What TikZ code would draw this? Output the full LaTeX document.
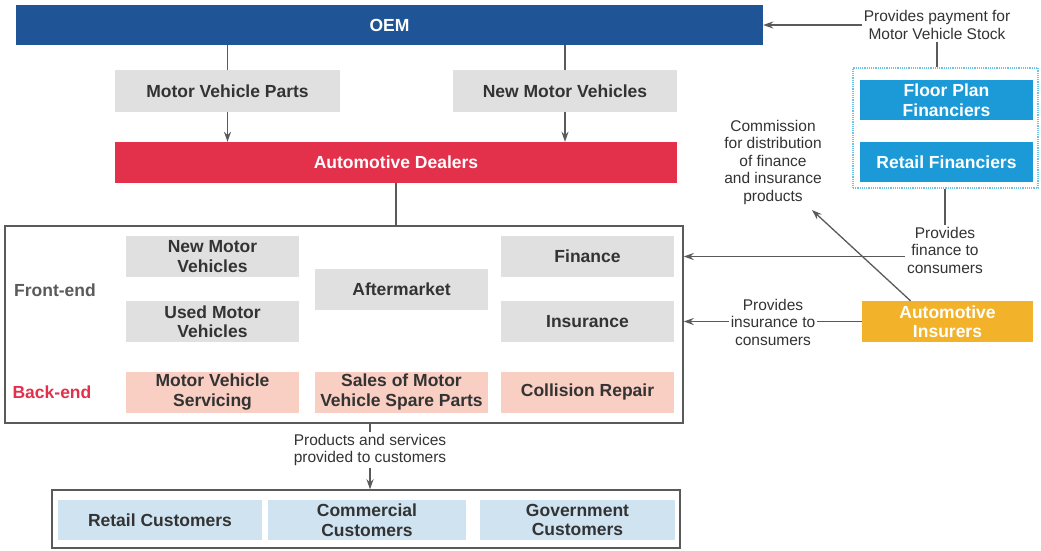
\documentclass[tikz,border=0pt]{standalone}
\usepackage{fontspec}
\setmainfont{Liberation Sans}
\usetikzlibrary{arrows.meta}
\definecolor{oemblue}{HTML}{1F5596}
\definecolor{dealred}{HTML}{E3304B}
\definecolor{boxgray}{HTML}{E0E0E0}
\definecolor{boxpink}{HTML}{F9CEC3}
\definecolor{custblue}{HTML}{CFE3F0}
\definecolor{finblue}{HTML}{1B9AD7}
\definecolor{insorange}{HTML}{F2B22A}
\definecolor{txtdark}{HTML}{333333}
\definecolor{linegray}{HTML}{5A5A5A}
\definecolor{dotcyan}{HTML}{6CC3E6}
\tikzset{
  bx/.style={inner sep=0pt, align=center, font=\fontsize{17.5}{19.5}\selectfont\bfseries},
  gbox/.style={bx, fill=boxgray, text=txtdark, minimum width=173pt, minimum height=41pt},
  pbox/.style={bx, fill=boxpink, text=txtdark, minimum width=173pt, minimum height=41pt},
  cbox/.style={bx, fill=custblue, text=txtdark, minimum height=40pt},
  wbox/.style={bx, text=white},
  lbl/.style={align=center, text=txtdark, inner sep=2pt, font=\fontsize{15.5}{17.5}\selectfont},
  conn/.style={draw=linegray, line width=1.3pt},
  arr/.style={conn, -{Stealth[length=10pt,width=7pt]}},
}
\begin{document}
\begin{tikzpicture}[x=1pt,y=-1pt]
\fill[white] (0,0) rectangle (1041,550);
\useasboundingbox (0,0) rectangle (1041,550);

% top
\node[wbox, fill=oemblue, minimum width=747pt, minimum height=40pt] (oem) at (389.5,25) {OEM};
\node[gbox, minimum width=225pt, minimum height=42pt] (mvp) at (227.5,91) {Motor Vehicle Parts};
\node[gbox, minimum width=224pt, minimum height=42pt] (nmv) at (565,91) {New Motor Vehicles};
\node[wbox, fill=dealred, minimum width=562pt, minimum height=41pt] (deal) at (396,162.5) {Automotive Dealers};

\draw[conn] (mvp.north |- oem.south) -- (mvp.north);
\draw[conn] (nmv.north |- oem.south) -- (nmv.north);
\draw[arr] (mvp.south) -- (mvp.south |- deal.north);
\draw[arr] (nmv.south) -- (nmv.south |- deal.north);

% big box
\node[draw=linegray, line width=1.5pt, minimum width=678pt, minimum height=197pt, inner sep=0pt] (big) at (344,324.5) {};
\draw[conn] (deal.south) -- (deal.south |- big.north);

\node[gbox] (nmv2) at (212.5,256.5) {New Motor\\Vehicles};
\node[gbox] (umv) at (212.5,321.5) {Used Motor\\Vehicles};
\node[gbox] (aft) at (401.5,289.5) {Aftermarket};
\node[gbox] (fin) at (587.5,256.5) {Finance};
\node[gbox] (ins) at (587.5,321.5) {Insurance};
\node[pbox] (serv) at (212.5,392) {Motor Vehicle\\Servicing};
\node[pbox] (spare) at (401.5,392) {Sales of Motor\\Vehicle Spare Parts};
\node[pbox] (coll) at (587.5,392) {Collision Repair};
\node[bx, text=linegray] (front) at (55,290) {Front-end};
\node[bx, text=dealred] (back) at (52,392) {Back-end};

% customers
\node[lbl] (prod) at (370,450) {Products and services\\provided to customers};
\node[draw=linegray, line width=1.5pt, minimum width=628pt, minimum height=58pt, inner sep=0pt] (cust) at (366,519) {};
\node[cbox, minimum width=204pt] (retail) at (160,520) {Retail Customers};
\node[cbox, minimum width=198pt] (comm) at (367,520) {Commercial\\Customers};
\node[cbox, minimum width=195pt] (gov) at (577.5,520) {Government\\Customers};
\draw[conn] (prod.north |- big.south) -- (prod.north);
\draw[arr] (prod.south) -- (prod.south |- cust.north);

% right side
\node[lbl] (pay) at (937,25) {Provides payment for\\Motor Vehicle Stock};
\draw[arr] (pay.west) -- (oem.east);
\node[draw=dotcyan, densely dotted, line width=1.2pt, minimum width=185pt, minimum height=120pt, inner sep=0pt] (fbox) at (945.5,128) {};
\draw[conn] (pay.south) -- (pay.south |- fbox.north);
\node[wbox, fill=finblue, minimum width=173pt, minimum height=40pt] (floor) at (946.5,100) {Floor Plan\\Financiers};
\node[wbox, fill=finblue, minimum width=173pt, minimum height=40pt] (rfin) at (946.5,162) {Retail Financiers};

\node[lbl] (fintext) at (945,250) {Provides\\finance to\\consumers};
\draw[conn] (fintext.north |- fbox.south) -- (fintext.north);
\draw[arr] (fintext.west |- fin) -- (big.east |- fin);

\node[wbox, fill=insorange, minimum width=171pt, minimum height=41pt] (insurer) at (947.5,321.5) {Automotive\\Insurers};
\node[lbl] (instext) at (773,322) {Provides\\insurance to\\consumers};
\draw[conn] (insurer.west) -- (instext.east |- insurer.west);
\draw[arr] (instext.west |- insurer.west) -- (big.east |- insurer.west);

\node[lbl] (commtext) at (773,162) {Commission\\for distribution\\of finance\\and insurance\\products};
\coordinate (ctip) at (812,210);
\draw[arr] ([xshift=-37pt]insurer.north) -- (ctip);
\end{tikzpicture}
\end{document}
